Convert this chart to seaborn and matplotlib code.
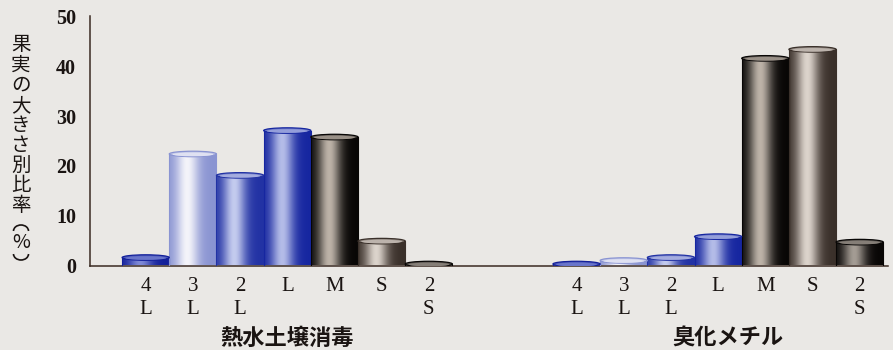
import numpy as np
import pandas as pd
import matplotlib
matplotlib.use("Agg")
import matplotlib.pyplot as plt
import seaborn as sns
from matplotlib.patches import Ellipse, Arc
from matplotlib.colors import to_rgb

# ---- data ----
sizes = ["4\nL", "3\nL", "2\nL", "L", "M", "S", "2\nS"]
groups = ["熱水土壌消毒", "臭化メチル"]
hot_water = [1.6, 22.4, 18.1, 27.1, 25.8, 4.9, 0.3]
methyl_bromide = [0.3, 1.0, 1.6, 5.8, 41.6, 43.4, 4.7]
yticks = [0, 10, 20, 30, 40, 50]
ylabel_chars = ["果", "実", "の", "大", "き", "さ", "別", "比", "率", "%"]

# ---- style ----
bg = "#eae8e5"
ink = "#1a1412"
# (dark, light) for each size class
shades = [
    ("#13209a", "#7f8ad6"),
    ("#8a94d2", "#f4f4fa"),
    ("#2232a4", "#c4cbee"),
    ("#1626a0", "#b4bce8"),
    ("#080605", "#bdb3a8"),
    ("#3a302a", "#dcd4cc"),
    ("#080605", "#a49c94"),
]
group_offset = 9.13

sns.set_theme(style="white")
plt.rcParams["font.family"] = ["Noto Sans CJK JP", "DejaVu Sans"]

rows = []
for g, (gname, vals) in enumerate(zip(groups, [hot_water, methyl_bromide])):
    for i, (s, v) in enumerate(zip(sizes, vals)):
        rows.append({"group": gname, "size": s, "idx": i,
                     "pos": i + g * group_offset, "value": v})
df = pd.DataFrame(rows)

W, H = 893, 350
fig = plt.figure(figsize=(8.93, 3.5), dpi=100, facecolor=bg)
ax = fig.add_axes([90 / W, 1 - 265.5 / H, 798 / W, 249 / H])
ax.set_facecolor(bg)

sns.barplot(data=df, x="pos", y="value", native_scale=True, width=1.0,
            color="#888888", ax=ax, errorbar=None, saturation=1)

N = 96
t = np.linspace(0, 1, N)
profile = np.exp(-((t - 0.38) / 0.24) ** 2)

for patch in list(ax.patches):
    x0 = patch.get_x()
    w = patch.get_width()
    h = patch.get_height()
    xc = x0 + w / 2
    row = df.iloc[(df["pos"] - xc).abs().argmin()]
    dark, light = (np.array(to_rgb(c)) for c in shades[int(row["idx"])])
    img = dark[None, :] + (light - dark)[None, :] * profile[:, None]
    img = img[None, :, :]
    im = ax.imshow(img, extent=[x0, x0 + w, 0, h], aspect="auto",
                   interpolation="bilinear", zorder=2)
    im.set_clip_path(patch)
    patch.set_facecolor("none")
    patch.set_edgecolor(dark)
    patch.set_linewidth(0.8)
    patch.set_zorder(3)
    top = dark + (light - dark) * 0.55
    ax.add_patch(Ellipse((xc, h), width=w, height=1.1, facecolor=top,
                         edgecolor=dark, linewidth=0.9, zorder=4))
    ax.add_patch(Ellipse((xc, h - 0.1), width=w * 0.86, height=0.75,
                         facecolor=dark + (light - dark) * 0.8,
                         edgecolor="none", zorder=4))

ax.set_xlim(-1.18, 15.73)
ax.set_ylim(0, 50)
ax.set_xticks(df["pos"])
ax.set_xticklabels(df["size"], family="Liberation Serif", fontsize=15,
                   color=ink, linespacing=1.3)
ax.set_yticks(yticks)
ax.set_yticklabels([str(v) for v in yticks], family="Liberation Serif",
                   fontsize=14.5, fontweight="bold", color=ink)
ax.tick_params(axis="x", length=0, pad=8)
ax.tick_params(axis="y", direction="in", length=8, width=1, color="#3a2a22", pad=10)
ax.set_xlabel("")
ax.set_ylabel("")
for side in ["top", "right"]:
    ax.spines[side].set_visible(False)
for side in ["left", "bottom"]:
    ax.spines[side].set_color("#3a2a22")
    ax.spines[side].set_linewidth(1.1)

# vertical y-axis title, one character per row
ycent = [45 + 20.1 * i for i in range(9)] + [242]
for ch, yp in zip(ylabel_chars, ycent):
    fig.text(21 / W, 1 - yp / H, ch, ha="center", va="center",
             fontsize=14, color=ink,
             family=["Noto Sans CJK JP", "DejaVu Sans"])
# vertical-form parentheses drawn as arcs
fig.add_artist(Arc((21 / W, 1 - 231 / H), 15 / W, 12 / H, theta1=0, theta2=180,
                   transform=fig.transFigure, color=ink, linewidth=1.2))
fig.add_artist(Arc((21 / W, 1 - 254 / H), 15 / W, 12 / H, theta1=180, theta2=360,
                   transform=fig.transFigure, color=ink, linewidth=1.2))

label_x = [3, 3 + group_offset + 0.2]
for gname, xl in zip(groups, label_x):
    ax.text(xl, -14.6, gname, ha="center", va="center", fontsize=16,
            fontweight="bold", color=ink,
            family=["Noto Sans CJK JP", "DejaVu Sans"])

fig.savefig("out.png", dpi=100, facecolor=bg)
